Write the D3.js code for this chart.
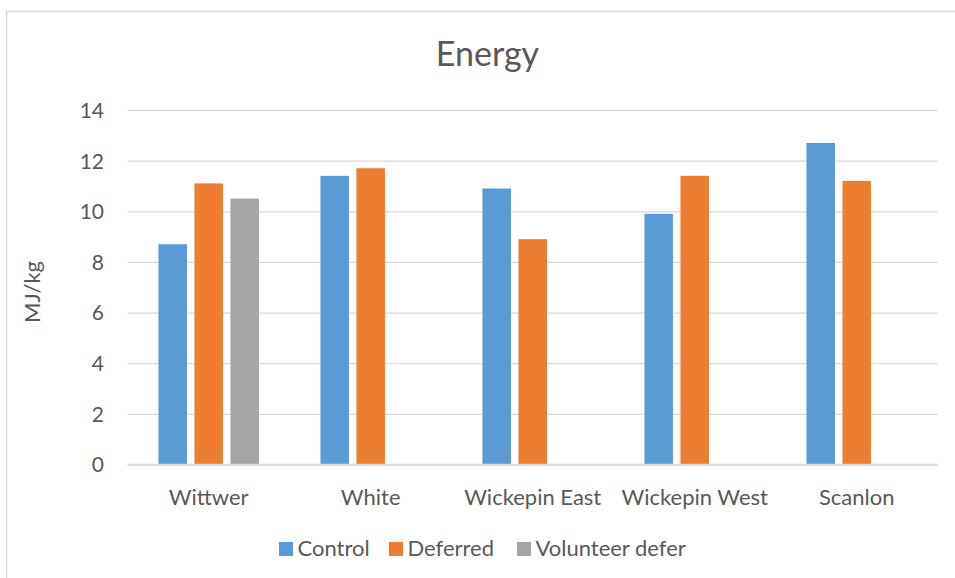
<!DOCTYPE html>
<html>
<head>
<meta charset="utf-8">
<script src="https://cdn.jsdelivr.net/npm/d3@7"></script>
<style>
  html, body { margin: 0; padding: 0; background: #fff; }
  svg { display: block; font-family: Lato, "Open Sans", sans-serif; }
</style>
</head>
<body>
<svg id="chart" width="955" height="578"></svg>
<script>
// Energy content (MJ/kg) by site and treatment
const categories = ["Wittwer", "White", "Wickepin East", "Wickepin West", "Scanlon"];
const seriesNames = ["Control", "Deferred", "Volunteer defer"];
const control = [8.7, 11.4, 10.9, 9.9, 12.7];
const deferred = [11.1, 11.7, 8.9, 11.4, 11.2];
const volunteerDefer = [10.5, null, null, null, null];
const yTicks = [0, 2, 4, 6, 8, 10, 12, 14];
const colors = ["#5B9BD5", "#ED7D31", "#A5A5A5"];

const seriesValues = [control, deferred, volunteerDefer];
const textColor = "#595959";
const gridColor = "#D9D9D9";

const svg = d3.select("#chart");

// outer chart frame
svg.append("rect")
  .attr("x", 6.5).attr("y", 11.5)
  .attr("width", 1000).attr("height", 1000)
  .attr("fill", "none")
  .attr("stroke", gridColor)
  .attr("stroke-width", 1.5);

const plot = { left: 127.7, right: 937.7, top: 110, bottom: 464.5 };

const y = d3.scaleLinear().domain([0, 14]).range([plot.bottom, plot.top]);
const x0 = d3.scaleBand().domain(categories).range([plot.left, plot.right]).padding(0);
const groupInset = (x0.bandwidth() - 100.5) / 2;
const x1 = d3.scaleBand().domain(seriesNames)
  .range([groupInset, x0.bandwidth() - groupInset])
  .paddingInner(7.5 / 36).paddingOuter(0);

// gridlines and tick labels
const yAxis = d3.axisLeft(y)
  .tickValues(yTicks)
  .tickSize(-(plot.right - plot.left))
  .tickPadding(0)
  .tickFormat(d3.format("d"));

const gAxis = svg.append("g")
  .attr("transform", `translate(${plot.left},0)`)
  .call(yAxis);
gAxis.select(".domain").remove();
gAxis.selectAll(".tick line")
  .attr("stroke", gridColor)
  .attr("stroke-width", 1.3);
gAxis.selectAll(".tick text")
  .attr("x", 104 - plot.left)
  .attr("dy", "0.35em")
  .attr("fill", textColor)
  .attr("font-size", 21)
  .attr("font-family", "Lato, sans-serif");

// bars
const rows = categories.map((c, i) => ({
  category: c,
  values: seriesNames.map((s, j) => ({ series: s, value: seriesValues[j][i], color: colors[j] }))
}));

const groups = svg.append("g").selectAll("g")
  .data(rows)
  .join("g")
  .attr("transform", d => `translate(${x0(d.category)},0)`);

groups.selectAll("rect")
  .data(d => d.values.filter(v => v.value != null))
  .join("rect")
  .attr("x", d => x1(d.series))
  .attr("width", x1.bandwidth())
  .attr("y", d => y(d.value))
  .attr("height", d => y(0) - y(d.value))
  .attr("fill", d => d.color);

// baseline
svg.append("line")
  .attr("x1", plot.left).attr("x2", plot.right)
  .attr("y1", y(0)).attr("y2", y(0))
  .attr("stroke", gridColor).attr("stroke-width", 1.3);

// category labels
const xAxis = d3.axisBottom(x0).tickSize(0).tickPadding(0);
const gx = svg.append("g")
  .attr("transform", `translate(0,${plot.bottom})`)
  .call(xAxis);
gx.select(".domain").remove();
gx.selectAll(".tick text")
  .attr("y", 40.5)
  .attr("dy", 0)
  .attr("fill", textColor)
  .attr("font-size", 22)
  .attr("font-family", "Lato, sans-serif");

// title
svg.append("text")
  .attr("x", 487.5).attr("y", 66)
  .attr("text-anchor", "middle")
  .attr("fill", textColor)
  .attr("font-size", 34)
  .text("Energy");

// y-axis title
svg.append("text")
  .attr("transform", `translate(40,292) rotate(-90)`)
  .attr("text-anchor", "middle")
  .attr("fill", textColor)
  .attr("font-size", 22)
  .text("MJ/kg");

// legend
const legendX = [279, 389, 517];
const legend = svg.append("g").selectAll("g")
  .data(seriesNames)
  .join("g")
  .attr("transform", (d, i) => `translate(${legendX[i]},542)`);
legend.append("rect")
  .attr("width", 14).attr("height", 14)
  .attr("fill", (d, i) => colors[i]);
legend.append("text")
  .attr("x", 18.5).attr("y", 14)
  .attr("fill", textColor)
  .attr("font-size", 22)
  .text(d => d);
</script>
</body>
</html>
